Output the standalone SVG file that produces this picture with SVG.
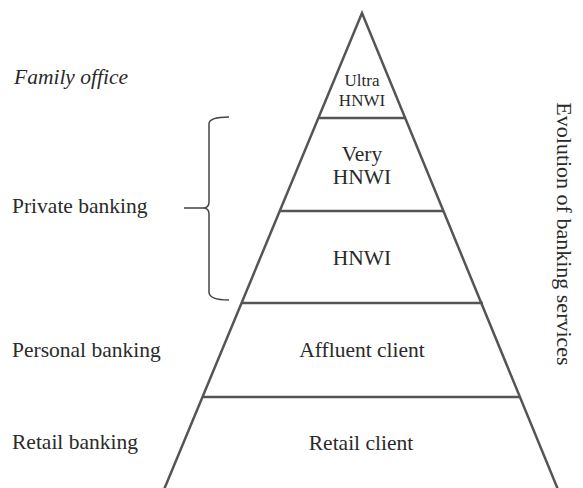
<svg xmlns="http://www.w3.org/2000/svg" width="583" height="488" viewBox="0 0 583 488">
<style>
.t{font-family:"Liberation Serif","Times New Roman",serif;font-size:21.5px;fill:#2a2a2a}
.s{font-size:17px}
.c{text-anchor:middle}
.ln{stroke:#555;stroke-width:2.5;fill:none}
.br{stroke:#444;stroke-width:1.5;fill:none}
</style>
<rect width="583" height="488" fill="#fff"/>
<g id="pyramid">
<path class="ln" d="M163,492 L362,13 L559,492"/>
</g>
<g id="connectors">
<line class="ln" x1="319" y1="118" x2="405" y2="118"/>
<line class="ln" x1="280" y1="211" x2="444" y2="211"/>
<line class="ln" x1="241" y1="303" x2="483" y2="303"/>
<line class="ln" x1="203" y1="397" x2="521" y2="397"/>
<path class="br" d="M229,117 Q209,117 209,124 L209,202 Q209,208 203,208 L184,208 M203,208 Q209,208 209,214 L209,292 Q209,300 229,300"/>
</g>
<g id="ultra"><text class="t s c" x="362" y="86">Ultra</text><text class="t s c" x="362" y="106">HNWI</text></g>
<g id="very"><text class="t c" x="362" y="161">Very</text><text class="t c" x="362" y="184">HNWI</text></g>
<g id="hnwi"><text class="t c" x="362" y="265">HNWI</text></g>
<g id="affluent"><text class="t c" x="362" y="357">Affluent client</text></g>
<g id="retail"><text class="t c" x="361" y="450">Retail client</text></g>
<g id="family"><text class="t" x="14" y="84" font-style="italic">Family office</text></g>
<g id="private"><text class="t" x="12" y="213">Private banking</text></g>
<g id="personal"><text class="t" x="12" y="357">Personal banking</text></g>
<g id="retailb"><text class="t" x="12" y="449">Retail banking</text></g>
<g id="evolution"><text class="t c" style="font-size:22px" transform="translate(557,234) rotate(90)">Evolution of banking services</text></g>
</svg>
